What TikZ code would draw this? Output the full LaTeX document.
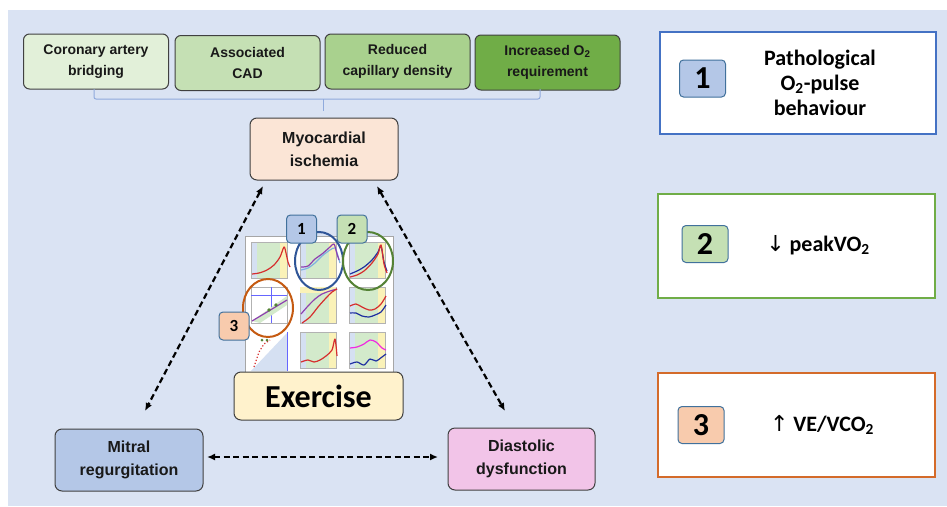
\documentclass[tikz,border=0pt]{standalone}
\usepackage{fontspec}
\setmainfont{Carlito}
\newfontfamily\arialf{Liberation Sans}
\newfontfamily\dejavu{DejaVu Sans}
\usetikzlibrary{arrows.meta}
\definecolor{bgblue}{HTML}{DAE3F3}
\definecolor{gA}{HTML}{E2F0D9}
\definecolor{gB}{HTML}{C5E0B4}
\definecolor{gC}{HTML}{A9D18E}
\definecolor{gD}{HTML}{70AD47}
\definecolor{peach}{HTML}{FBE5D6}
\definecolor{mitral}{HTML}{B4C7E7}
\definecolor{pinkd}{HTML}{F2C4E8}
\definecolor{exer}{HTML}{FFF2CC}
\definecolor{bracec}{HTML}{8FAADC}
\definecolor{pblue}{HTML}{4472C4}
\definecolor{pgreen}{HTML}{70AD47}
\definecolor{porange}{HTML}{D46B2A}
\definecolor{badgeedge}{HTML}{41719C}
\definecolor{bthree}{HTML}{F8CBAD}
\definecolor{cblue}{HTML}{2F5597}
\definecolor{cgreen}{HTML}{548235}
\definecolor{corange}{HTML}{C55A11}
\definecolor{bandb}{HTML}{D5E0F2}
\definecolor{bandg}{HTML}{D3EACB}
\definecolor{bandy}{HTML}{FAF2B8}
\definecolor{pred}{HTML}{D62E2E}
\definecolor{pnavy}{HTML}{1F2FA0}
\definecolor{ppurple}{HTML}{8E3FB0}
\definecolor{plight}{HTML}{7FB2E0}
\definecolor{pmag}{HTML}{F02BE0}
\newcommand\mplot[2]{%
  \fill[white] (#1,#2) rectangle ++(42,42);
  \fill[bandb] (#1+3,#2+3) rectangle (#1+9,#2+39);
  \fill[bandg] (#1+9,#2+3) rectangle (#1+32,#2+39);
  \fill[bandy] (#1+32,#2+3) rectangle (#1+39,#2+39);
  \draw[gray!60,line width=0.4pt] (#1+3,#2+3) rectangle (#1+39,#2+39);
}
\begin{document}
\begin{tikzpicture}[x=1pt,y=-1pt,
  topbox/.style={draw=black!75,line width=1pt,rounded corners=6pt,minimum width=145pt,minimum height=55pt,inner sep=0pt,align=center,font=\arialf\bfseries\fontsize{14}{21}\selectfont,text=black!90},
  midbox/.style={draw=black!75,line width=1pt,rounded corners=7pt,minimum width=148pt,minimum height=62pt,inner sep=0pt,align=center,font=\arialf\bfseries\fontsize{16}{23}\selectfont,text=black!90},
  panel/.style={line width=1.6pt,fill=white},
  bigbadge/.style={draw=badgeedge,line width=1pt,rounded corners=4pt,minimum width=46pt,minimum height=37pt,inner sep=0pt,font=\bfseries\fontsize{32}{32}\selectfont},
  smallbadge/.style={draw=badgeedge,line width=1pt,rounded corners=4pt,minimum width=30pt,minimum height=28pt,inner sep=0pt,font=\bfseries\fontsize{17}{17}\selectfont},
  paneltext/.style={align=center,font=\bfseries\fontsize{22}{25}\selectfont},
  darr/.style={line width=2.2pt,dash pattern=on 6pt off 3.5pt,{Latex[length=8pt,width=7pt]}-{Latex[length=8pt,width=7pt]}},
  brace/.style={draw=bracec,line width=1pt,rounded corners=2pt},
  curve/.style={line width=1.2pt,line join=round}
]
\useasboundingbox (0,0) rectangle (947,506);
\fill[white] (0,0) rectangle (947,506);
\fill[bgblue] (8,10) rectangle (947,506);

% top factor boxes
\node[topbox,fill=gA] (b1) at (96,61.5) {Coronary artery\\bridging};
\node[topbox,fill=gB] (b2) at (247.5,63) {Associated\\CAD};
\node[topbox,fill=gC] (b3) at (397.5,61.5) {Reduced\\capillary density};
\node[topbox,fill=gD] (b4) at (547.5,62.5) {Increased O\textsubscript{2}\\requirement};

% main nodes
\node[midbox,fill=peach] (myo) at (324,149) {Myocardial\\ischemia};
\node[midbox,fill=mitral] (mit) at (129,460) {Mitral\\regurgitation};
\node[midbox,fill=pinkd,minimum width=147pt] (dia) at (521.5,459) {Diastolic\\dysfunction};

% brace
\coordinate (brL) at (94,89);
\coordinate (brR) at (540,89);
\coordinate (brM) at (323,99);
\draw[brace] (brL) -- (94,99) -- (540,99) -- (brR);
\draw[bracec,line width=1pt] (brM) -- (323,111);

% chart image
\node[draw=gray!70,line width=1pt,fill=white,minimum width=148pt,minimum height=140pt,inner sep=0pt] (chart) at (319,306) {};
\mplot{248}{239}
\mplot{297}{239}
\mplot{346}{239}
\mplot{248}{284}
\mplot{297}{284}
\mplot{346}{284}
\mplot{248}{329}
\mplot{297}{329}
\mplot{346}{329}
% row 1 curves
\draw[curve,pred] plot[smooth] coordinates {(252,274)(259,273)(267,270)(274,265)(280,257)(284,247)(286,253)(288,262)(290,267)};
\draw[curve,plight] plot[smooth] coordinates {(301,270)(308,268)(315,263)(322,256)(330,250)(335,248)(338,256)(340,263)};
\draw[curve,ppurple] plot[smooth] coordinates {(301,267)(308,266)(315,259)(322,254)(330,247)(334,244)(337,254)(339,260)};
\draw[curve,pnavy] plot[smooth] coordinates {(350,274)(357,271)(364,267)(372,260)(378,252)(381,246)(384,262)(387,271)};
\draw[curve,pred] plot[smooth] coordinates {(350,277)(357,275)(364,271)(372,263)(378,254)(381,245)(384,264)(387,273)};
% row 2 curves
\fill[white] (251,287) rectangle (287,323);
\draw[gray!60,line width=0.4pt] (251,287) rectangle (287,323);
\draw[blue!60,line width=0.5pt] (251,295) -- (287,295) (271,287) -- (271,323);
\fill[bandg] (252,321) -- (287,296) -- (287,305) -- (260,323) -- cycle;
\draw[curve,ppurple] (252,321) -- (287,300);
\fill[cgreen] (269,310) circle (1.8pt) (276,305) circle (1.8pt);
\fill[bandy] (300,287) rectangle (336,293);
\draw[curve,ppurple] plot[smooth] coordinates {(301,314)(308,306)(315,299)(322,294)(330,291)(337,289)};
\draw[curve,pred] plot[smooth] coordinates {(302,323)(310,317)(318,307)(326,298)(332,292)(337,289)};
\draw[curve,pred] plot[smooth] coordinates {(350,306)(356,304)(362,307)(369,310)(375,309)(381,304)(386,296)};
\draw[curve,pnavy] plot[smooth] coordinates {(350,313)(356,313)(362,316)(369,317)(375,315)(381,312)(386,305)};
% row 3 curves
\fill[white] (251,332) rectangle (287,371);
\fill[bandb] (251,371) -- (287,333) -- (287,371) -- cycle;
\draw[blue!60,line width=0.5pt] (287,332) -- (287,371);
\draw[pred,line width=1.2pt,dotted] (254,367) -- (259,352) -- (264,344) -- (270,340);
\fill[cgreen] (262,340) circle (1.5pt) (267,340) circle (1.5pt);
\draw[curve,pred] plot[smooth] coordinates {(301,362)(308,360)(314,362)(320,360)(326,356)(332,350)(335,339)(337,356)};
\draw[curve,pmag] plot[smooth] coordinates {(350,348)(357,347)(364,344)(370,340)(376,342)(382,348)(386,350)};
\draw[curve,pnavy] plot[smooth] coordinates {(350,364)(357,362)(364,365)(370,359)(376,361)(382,357)(386,354)};

% circles
\draw[cblue,line width=2pt] (319,261) ellipse [x radius=24pt,y radius=29pt];
\draw[cgreen,line width=2pt] (368,261) ellipse [x radius=25pt,y radius=29pt];
\draw[corange,line width=2pt] (268,308) ellipse [x radius=25pt,y radius=29pt];

% small badges
\node[smallbadge,fill=mitral] (s1) at (301.5,229) {1};
\node[smallbadge,fill=gB] (s2) at (352,229) {2};
\node[smallbadge,fill=bthree] (s3) at (234,326) {3};

% exercise
\node[draw=black!75,line width=1pt,rounded corners=7pt,fill=exer,minimum width=169pt,minimum height=48pt,inner sep=0pt,font=\bfseries\fontsize{32}{32}\selectfont] (ex) at (318.5,396) {Exercise};

% dashed arrows
\coordinate (l1) at (263,186);
\coordinate (l2) at (145,411);
\coordinate (r1) at (377,186);
\coordinate (r2) at (505,411);
\coordinate (h1) at (207,457);
\coordinate (h2) at (438,457);
\draw[darr] (l1) -- (l2);
\draw[darr] (r1) -- (r2);
\draw[darr] (h1) -- (h2);

% right panels
\node[panel,draw=pblue,minimum width=276pt,minimum height=102pt,inner sep=0pt] (p1) at (798,83) {};
\node[panel,draw=pgreen,minimum width=277pt,minimum height=104pt,inner sep=0pt] (p2) at (796.5,246) {};
\node[panel,draw=porange,minimum width=277pt,minimum height=104pt,inner sep=0pt] (p3) at (796.5,425) {};
\node[bigbadge,fill=mitral] (n1) at (702.5,78.5) {1};
\node[bigbadge,fill=gB] (n2) at (705,244) {2};
\node[bigbadge,fill=bthree] (n3) at (701,425) {3};
\node[paneltext] (t1) at (820,83) {Pathological\\O\textsubscript{2}-pulse\\behaviour};
\node[paneltext] (t2) at (818,245) {{\dejavu\mdseries\fontsize{22}{22}\selectfont↓} peakVO\textsubscript{2}};
\node[paneltext] (t3) at (822,425) {{\dejavu\mdseries\fontsize{22}{22}\selectfont↑} VE/VCO\textsubscript{2}};
\end{tikzpicture}
\end{document}
